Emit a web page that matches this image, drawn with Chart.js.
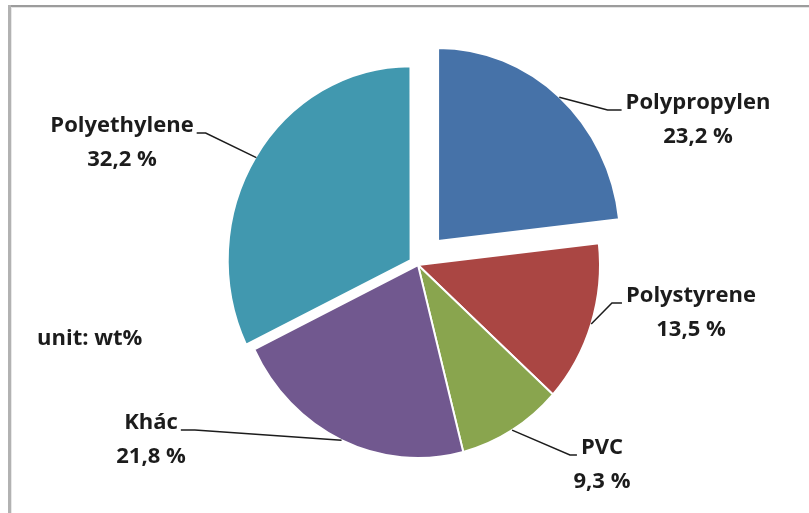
<!DOCTYPE html>
<html>
<head>
<meta charset="utf-8">
<script src="https://cdn.jsdelivr.net/npm/chart.js@4/dist/chart.umd.min.js"></script>
<style>
  html, body { margin: 0; padding: 0; background: #ffffff; }
  #wrap { position: relative; width: 809px; height: 513px; }
</style>
</head>
<body>
<div id="wrap"><canvas id="c" width="809" height="513"></canvas></div>
<script>
// Plastic composition of waste (wt%)
const categories = ['Polypropylen', 'Polystyrene', 'PVC', 'Khác', 'Polyethylene'];
const shares = [23.2, 13.5, 9.3, 21.8, 32.2];
const sliceColors = ['#4672A8', '#AA4643', '#89A54E', '#71588F', '#4198AF'];
const sliceOffsets = [124, 0, 0, 0, 36];
const unitNote = 'unit: wt%';

// Label placement: block centre x, first-line baseline, leader elbow length
const labelPlacement = [
  { cx: 698, y: 109, side: 'right', elbow: 14 },
  { cx: 691, y: 302, side: 'right', elbow: 10 },
  { cx: 602, y: 454, side: 'right', elbow: 7 },
  { cx: 151, y: 429, side: 'left',  elbow: 14 },
  { cx: 122, y: 132, side: 'left',  elbow: 9 }
];

// The pie is drawn slightly taller than wide
const PIE_SX = 0.973;
const PIE_SY = 1.032;

const FONT = 'bold 22px "Open Sans", "DejaVu Sans", sans-serif';

function fmtPct(v) {
  return v.toFixed(1).replace('.', ',') + ' %';
}

function pieCenter(chart) {
  const a = chart.chartArea;
  return { x: (a.left + a.right) / 2, y: (a.top + a.bottom) / 2 };
}

const frameAndLabels = {
  id: 'frameAndLabels',
  beforeDraw(chart) {
    const ctx = chart.ctx;
    ctx.save();
    ctx.fillStyle = '#ffffff';
    ctx.fillRect(0, 0, chart.width, chart.height);
    // outer frame (top and left edges)
    ctx.fillStyle = '#9c9c9c';
    ctx.fillRect(8, 5, chart.width - 8, 2);
    ctx.fillStyle = '#e4e4e4';
    ctx.fillRect(10, 7, chart.width - 10, 1);
    ctx.fillStyle = '#b2b2b2';
    ctx.fillRect(8, 5, 3, chart.height - 5);
    ctx.fillStyle = '#e8e8e8';
    ctx.fillRect(11, 7, 1, chart.height - 7);
    ctx.restore();
  },
  beforeDatasetsDraw(chart) {
    const ctx = chart.ctx;
    const c = pieCenter(chart);
    ctx.save();
    ctx.translate(c.x, c.y);
    ctx.scale(PIE_SX, PIE_SY);
    ctx.translate(-c.x, -c.y);
  },
  afterDatasetsDraw(chart) {
    const ctx = chart.ctx;
    ctx.restore();
    const c = pieCenter(chart);
    const meta = chart.getDatasetMeta(0);
    ctx.save();
    ctx.font = FONT;
    ctx.fillStyle = '#1c1c1c';
    ctx.strokeStyle = '#1c1c1c';
    ctx.lineWidth = 1.5;
    ctx.textBaseline = 'alphabetic';
    ctx.textAlign = 'center';
    meta.data.forEach((arc, i) => {
      const p = arc.getProps(['x', 'y', 'startAngle', 'endAngle', 'outerRadius'], true);
      const mid = (p.startAngle + p.endAngle) / 2;
      const off = (arc.options.offset || 0) / 4;
      const ax0 = p.x + Math.cos(mid) * (p.outerRadius + off);
      const ay0 = p.y + Math.sin(mid) * (p.outerRadius + off);
      const ax = c.x + (ax0 - c.x) * PIE_SX;
      const ay = c.y + (ay0 - c.y) * PIE_SY;
      const L = labelPlacement[i];
      const name = categories[i];
      const w = ctx.measureText(name).width;
      let ex, elx;
      if (L.side === 'right') {
        ex = L.cx - w / 2 - 4;
        elx = ex - L.elbow;
      } else {
        ex = L.cx + w / 2 + 3;
        elx = ex + L.elbow;
      }
      const ey = L.y + 1;
      ctx.beginPath();
      ctx.moveTo(ax, ay);
      ctx.lineTo(elx, ey);
      ctx.lineTo(ex, ey);
      ctx.stroke();
      ctx.fillText(name, L.cx, L.y);
      ctx.fillText(fmtPct(shares[i]), L.cx, L.y + 34);
    });
    ctx.textAlign = 'left';
    ctx.fillText(unitNote, 37, 345);
    ctx.restore();
  }
};

new Chart(document.getElementById('c'), {
  type: 'pie',
  data: {
    labels: categories,
    datasets: [{
      data: shares,
      backgroundColor: sliceColors,
      borderColor: '#ffffff',
      borderWidth: 2,
      offset: sliceOffsets,
      radius: 187
    }]
  },
  options: {
    responsive: false,
    animation: false,
    layout: { padding: { left: 27, right: 0, top: 17, bottom: 0 } },
    plugins: {
      legend: { display: false },
      tooltip: { enabled: false }
    }
  },
  plugins: [frameAndLabels]
});
</script>
</body>
</html>
